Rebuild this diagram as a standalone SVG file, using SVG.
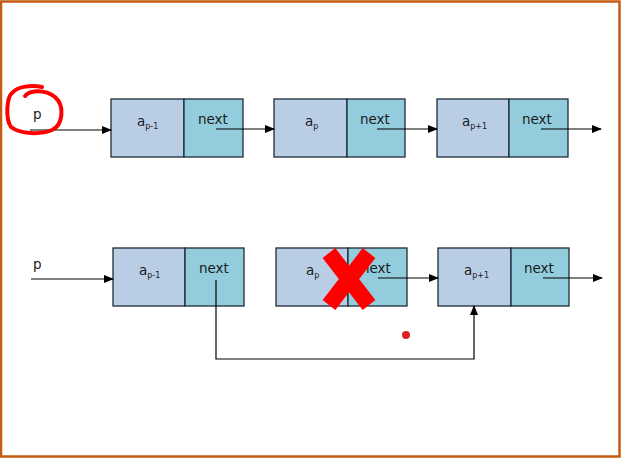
<svg xmlns="http://www.w3.org/2000/svg" width="621" height="458" viewBox="0 0 621 458">
<defs>
<marker id="ah" markerWidth="10" markerHeight="8" refX="9" refY="4" orient="auto" markerUnits="userSpaceOnUse">
<path d="M0,0 L10,4 L0,8 Z" fill="#000"/>
</marker>
<style>
.d{fill:#b9cde5;stroke:#1e2a36;stroke-width:1.3}
.n{fill:#93cddd;stroke:#1e2a36;stroke-width:1.3}
.t{font-family:"DejaVu Sans",Verdana,sans-serif;font-size:13.5px;fill:#1a1a1a}
.s{font-size:8px}
.c{fill:none;stroke:#000;stroke-width:1.2}
.a{marker-end:url(#ah)}
</style>
</defs>
<rect x="1" y="1.5" width="618.5" height="455" fill="#fff" stroke="#c55a11" stroke-width="2.5"/>
<text class="t" x="33" y="119">p</text>
<text class="t" x="33" y="269">p</text>
<g id="r1n1"><rect class="d" x="111" y="99" width="73" height="58"/><rect class="n" x="184" y="99" width="59" height="58"/>
<text class="t" x="137" y="126">a<tspan class="s" dy="3">p-1</tspan></text><text class="t" x="198" y="124">next</text></g>
<g id="r1n2"><rect class="d" x="274" y="99" width="73" height="58"/><rect class="n" x="347" y="99" width="58" height="58"/>
<text class="t" x="305" y="126">a<tspan class="s" dy="3">p</tspan></text><text class="t" x="360" y="124">next</text></g>
<g id="r1n3"><rect class="d" x="437" y="99" width="72" height="58"/><rect class="n" x="509" y="99" width="59" height="58"/>
<text class="t" x="462" y="126">a<tspan class="s" dy="3">p+1</tspan></text><text class="t" x="522" y="124">next</text></g>
<g id="r2n1"><rect class="d" x="113" y="248" width="72" height="58"/><rect class="n" x="185" y="248" width="59" height="58"/>
<text class="t" x="139" y="275">a<tspan class="s" dy="3">p-1</tspan></text><text class="t" x="199" y="273">next</text></g>
<g id="r2n2"><rect class="d" x="276" y="248" width="72" height="58"/><rect class="n" x="348" y="248" width="59" height="58"/>
<text class="t" x="306" y="275">a<tspan class="s" dy="3">p</tspan></text><text class="t" x="361" y="273">next</text></g>
<g id="r2n3"><rect class="d" x="438" y="248" width="73" height="58"/><rect class="n" x="511" y="248" width="58" height="58"/>
<text class="t" x="464" y="275">a<tspan class="s" dy="3">p+1</tspan></text><text class="t" x="524" y="273">next</text></g>
<g id="connectors">
<line class="c a" x1="30" y1="130" x2="111" y2="130"/>
<line class="c a" x1="216" y1="129" x2="274" y2="129"/>
<line class="c a" x1="377" y1="129" x2="437" y2="129"/>
<line class="c a" x1="541" y1="129" x2="601" y2="129"/>
<line class="c a" x1="31" y1="279" x2="113" y2="279"/>
<polyline class="c a" points="216,280 216,359 474,359 474,306"/>
<line class="c a" x1="378" y1="278" x2="438" y2="278"/>
<line class="c a" x1="543" y1="278" x2="602" y2="278"/>
</g>
<g id="marks">
<path d="M329,253 L369,305 M369,253 L329,305" stroke="#ff0000" stroke-width="16" fill="none"/>
<circle cx="406" cy="335" r="4" fill="#e02020"/>
<path d="M25,96 C30,90 45,89 55,97 C65,106 63,125 52,130 C40,135 20,134 11,127 C5,118 7,97 12,93 C18,86 32,85 42,87" fill="none" stroke="#ff0000" stroke-width="4" stroke-linecap="round"/>
</g>
</svg>
